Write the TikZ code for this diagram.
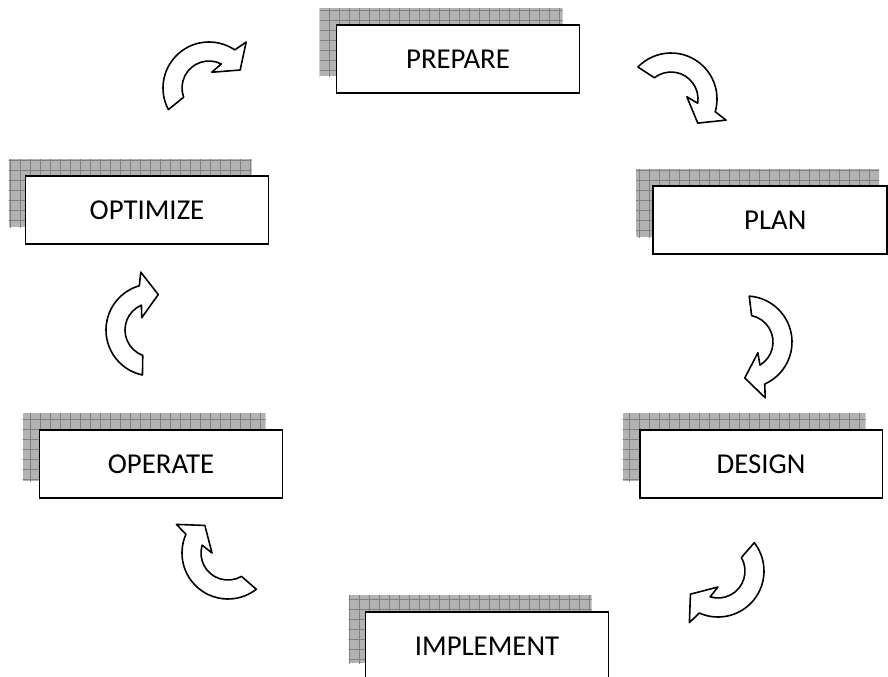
\documentclass[tikz,border=0pt]{standalone}
\usepackage{fontspec}
\setmainfont{Carlito}
\usetikzlibrary{backgrounds}

\begin{document}
\begin{tikzpicture}[x=0.02cm, y=0.02cm,
	phase/.style = {draw, line width=1.1pt, fill=white, minimum width=4.86cm, minimum height=1.36cm, inner sep=0pt, font=\fontsize{16.4}{19}\selectfont},
	backing/.style = {fill=black!30},
	backing grid/.style = {draw=black!50, line width=0.5pt},
	cycle arrow/.pic = {\draw[line width=0.9pt, line join=round, fill=white] (86:46) arc[start angle=86, end angle=-66, radius=46] -- (-71:59) -- (-92:36) -- (-42:16) -- (-59:27) arc[start angle=-59, end angle=78, radius=27] -- cycle;}
	]
	\useasboundingbox (0,0) rectangle (888,-676);
	%FASI
	\node[phase] (@prepare) at (458,-59) {PREPARE};
	\node[phase, minimum width=4.68cm] (@plan) at (770,-220) {\hspace*{6pt}PLAN};
	\node[phase] (@design) at (761,-464) {DESIGN};
	\node[phase] (@implement) at (487,-646) {IMPLEMENT};
	\node[phase] (@operate) at (161,-464) {OPERATE};
	\node[phase] (@optimize) at (147,-210) {OPTIMIZE};
	%OMBRE
	\begin{scope}[on background layer]
		\foreach \n in {@prepare,@plan,@design,@implement,@operate,@optimize} {
			\begin{scope}
				\path[clip] ([shift={(-16,16)}]\n.north west) rectangle ++(243,-68);
				\fill[backing] ([shift={(-16,16)}]\n.north west) rectangle ++(243,-68);
				\draw[backing grid, step=0.2cm] ([shift={(-26,26)}]\n.north west) grid ++(263,-88);
			\end{scope}
		}
	\end{scope}
	%FRECCE
	\pic[rotate=122] at (209,-88) {cycle arrow};
	\pic[rotate=50] at (671,-99) {cycle arrow};
	\pic[rotate=0] at (746,-342) {cycle arrow};
	\pic[rotate=-48] at (718,-571) {cycle arrow};
	\pic[rotate=-138] at (228,-553) {cycle arrow};
	\pic[rotate=172] at (152,-330) {cycle arrow};
\end{tikzpicture}
\end{document}
